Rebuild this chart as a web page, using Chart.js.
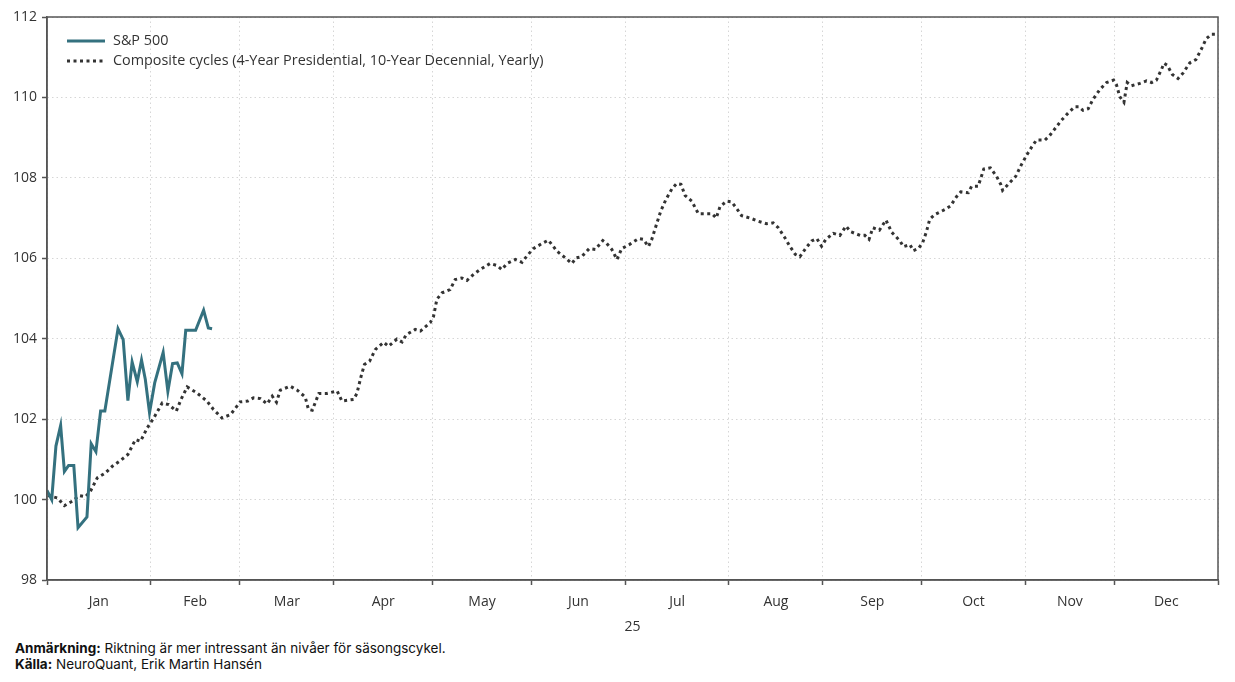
<!DOCTYPE html>
<html lang="sv">
<head>
<meta charset="utf-8">
<title>S&amp;P 500 vs säsongscykel</title>
<script src="https://cdn.jsdelivr.net/npm/chart.js@4.4.1/dist/chart.umd.min.js"></script>
<style>
  body { margin: 0; background: #fff; }
  #wrap { position: relative; width: 1235px; height: 640px; }
  #footer {
    position: absolute; left: 15px; top: 640px;
    font-family: "Inter", "Roboto", sans-serif; font-size: 13.5px; line-height: 16px; color: #111;
  }
  #footer b { font-weight: 700; }
</style>
</head>
<body>
<div id="wrap"><canvas id="chart"></canvas></div>
<div id="footer">
  <div><b>Anmärkning:</b> Riktning är mer intressant än nivåer för säsongscykel.</div>
  <div><b>Källa:</b> NeuroQuant, Erik Martin Hansén</div>
</div>
<script>
// Handelsdagar (index) där varje månad börjar, sista värdet = årets slut
const monthStarts = [0, 22, 41, 61, 82, 103, 123, 145, 165, 186, 208, 227, 249];
const monthLabels = ['Jan', 'Feb', 'Mar', 'Apr', 'May', 'Jun', 'Jul', 'Aug', 'Sep', 'Oct', 'Nov', 'Dec'];
const yTicks = [98, 100, 102, 104, 106, 108, 110, 112];

// S&P 500 (handelsdag, indexnivå)
const spxDays = [0, 1, 1.9, 2.9, 3.7, 4.6, 5.7, 6.6, 8.5, 9.4, 10.4, 11.4, 12.3, 15.1, 16.2, 17.2,
  18.1, 19.2, 20.1, 20.9, 21.8, 22.9, 24.7, 25.7, 26.7, 27.7, 28.7, 29.5, 31.6, 33.3, 34.3, 35.1];
const spxValues = [100.23, 100.0, 101.33, 101.84, 100.7, 100.85, 100.85, 99.3, 99.57, 101.39, 101.19,
  102.2, 102.2, 104.25, 103.98, 102.46, 103.42, 102.93, 103.47, 102.99, 102.16, 102.9, 103.66, 102.69,
  103.38, 103.4, 103.13, 104.21, 104.21, 104.71, 104.27, 104.25];

// Sammansatta cykler
const cycleDays = [0.2, 2.2, 3.7, 5.4, 6.8, 8.2, 9.2, 10.7, 12.4, 13.9, 15.6, 17.2, 18.8, 19.9, 21.3,
  22.7, 24.5, 25.9, 27.5, 28.5, 29.8, 31.9, 34.0, 35.4, 37.2, 39.0, 41.1, 42.7, 43.9, 45.4, 46.8, 47.9,
  48.8, 49.6, 51.7, 53.2, 54.9, 55.6, 56.4, 57.8, 59.5, 61.7, 62.7, 65.2, 65.9, 66.8, 67.5, 68.6, 69.8,
  71.6, 72.6, 74.4, 75.5, 76.4, 78.3, 79.4, 81.5, 82.2, 82.9, 84.0, 85.7, 86.8, 88.2, 89.3, 90.7, 92.1,
  94.2, 95.7, 96.7, 97.8, 99.6, 101.0, 102.0, 103.4, 105.6, 106.6, 107.7, 108.4, 110.2, 111.6, 112.5,
  113.7, 115.3, 116.6, 118.2, 119.0, 120.1, 121.2, 122.2, 123.8, 125.8, 126.8, 127.9, 128.6, 129.7,
  130.5, 131.6, 132.9, 133.9, 134.8, 135.7, 137.1, 138.5, 139.9, 141.4, 142.3, 143.1, 144.5, 145.6,
  146.7, 147.7, 149.5, 151.3, 153.0, 154.4, 155.5, 156.9, 158.0, 159.1, 160.1, 161.4, 162.6, 163.7,
  164.7, 165.6, 167.2, 168.6, 169.9, 170.9, 172.9, 173.9, 174.8, 175.6, 177.0, 178.4, 179.6, 181.4,
  182.1, 183.5, 184.2, 185.3, 186.2, 187.0, 187.7, 188.8, 190.9, 192.1, 193.4, 194.3, 195.9, 196.6,
  198.0, 199.2, 200.6, 201.9, 202.8, 203.2, 204.7, 206.0, 207.2, 208.4, 209.4, 210.4, 212.2, 213.2,
  215.7, 217.2, 218.6, 219.4, 220.3, 221.4, 222.4, 223.9, 225.3, 226.8, 227.4, 228.1, 229.0, 229.7,
  230.6, 232.4, 233.8, 234.9, 235.9, 237.0, 237.5, 238.2, 239.3, 240.5, 241.6, 243.0, 244.3, 245.5,
  246.5, 247.6, 248.7];
const cycleValues = [100.1, 100.04, 99.85, 99.96, 100.1, 100.07, 100.2, 100.54, 100.66, 100.83, 100.97,
  101.12, 101.49, 101.45, 101.78, 102.03, 102.4, 102.36, 102.2, 102.49, 102.8, 102.65, 102.45, 102.24,
  102.03, 102.11, 102.43, 102.45, 102.53, 102.51, 102.38, 102.57, 102.42, 102.72, 102.82, 102.72, 102.55,
  102.24, 102.22, 102.64, 102.64, 102.7, 102.45, 102.49, 102.64, 103.07, 103.36, 103.44, 103.73, 103.91,
  103.81, 103.99, 103.92, 104.1, 104.23, 104.19, 104.4, 104.56, 104.98, 105.14, 105.22, 105.47, 105.51,
  105.45, 105.6, 105.72, 105.87, 105.82, 105.72, 105.87, 105.97, 105.9, 106.05, 106.24, 106.39, 106.45,
  106.29, 106.18, 106.01, 105.87, 106.01, 106.04, 106.24, 106.22, 106.44, 106.37, 106.22, 105.97, 106.24,
  106.34, 106.49, 106.47, 106.29, 106.47, 106.88, 107.17, 107.46, 107.73, 107.86, 107.84, 107.56, 107.42,
  107.11, 107.11, 107.11, 107.0, 107.28, 107.42, 107.4, 107.23, 107.06, 107.0, 106.92, 106.86, 106.88,
  106.76, 106.51, 106.29, 106.1, 106.04, 106.26, 106.43, 106.49, 106.3, 106.47, 106.62, 106.57, 106.8,
  106.66, 106.57, 106.57, 106.47, 106.76, 106.7, 106.95, 106.65, 106.43, 106.29, 106.34, 106.19, 106.24,
  106.39, 106.66, 106.97, 107.09, 107.21, 107.3, 107.53, 107.65, 107.63, 107.79, 107.79, 108.22, 108.25,
  108.04, 107.84, 107.69, 107.88, 108.04, 108.33, 108.58, 108.77, 108.94, 108.94, 109.05, 109.43, 109.62,
  109.77, 109.77, 109.68, 109.72, 109.95, 110.2, 110.37, 110.43, 110.32, 110.02, 109.88, 110.37, 110.29,
  110.35, 110.41, 110.37, 110.43, 110.7, 110.85, 110.8, 110.57, 110.47, 110.61, 110.86, 110.94, 111.21,
  111.46, 111.57, 111.57];

const toPoints = (xs, ys) => xs.map((x, i) => ({ x: x, y: ys[i] }));

// Tick-positioner: månadsstart (jämnt index) och mitten av månaden (udda index) för etiketten
const xTickValues = [];
monthStarts.forEach((v, i) => {
  xTickValues.push(v);
  if (i < monthStarts.length - 1) xTickValues.push((v + monthStarts[i + 1]) / 2);
});

const fontFamily = '"Open Sans", "Noto Sans", sans-serif';
const axisColor = '#555';
const gridColor = '#d6d6d6';

// Ram runt ritytan
const framePlugin = {
  id: 'frame',
  afterDraw(chart) {
    const { ctx, chartArea: a } = chart;
    ctx.save();
    ctx.strokeStyle = axisColor;
    ctx.lineWidth = 1.5;
    ctx.strokeRect(a.left, a.top, a.right - a.left, a.bottom - a.top);
    ctx.restore();
  }
};

// Förklaring inne i diagrammet, uppe till vänster
const insideLegend = {
  id: 'insideLegend',
  afterDraw(chart) {
    const { ctx, chartArea: a } = chart;
    ctx.save();
    ctx.font = '14.4px ' + fontFamily;
    ctx.textBaseline = 'middle';
    chart.data.datasets.forEach((ds, i) => {
      const y = a.top + 24 + i * 20;
      const x = a.left + 20;
      ctx.beginPath();
      ctx.strokeStyle = ds.borderColor;
      ctx.lineWidth = ds.borderWidth;
      ctx.setLineDash(ds.borderDash || []);
      ctx.moveTo(x, y);
      ctx.lineTo(x + 38, y);
      ctx.stroke();
      ctx.setLineDash([]);
      ctx.fillStyle = '#333';
      ctx.fillText(ds.label, x + 46, y);
    });
    ctx.restore();
  }
};

const ctx = document.getElementById('chart').getContext('2d');
const chart = new Chart(ctx, {
  type: 'line',
  data: {
    datasets: [{
      label: 'S&P 500',
      data: toPoints(spxDays, spxValues),
      borderColor: '#34717f',
      borderWidth: 3,
      pointRadius: 0,
      tension: 0,
      order: 0
    }, {
      label: 'Composite cycles (4-Year Presidential, 10-Year Decennial, Yearly)',
      data: toPoints(cycleDays, cycleValues),
      borderColor: '#333333',
      borderWidth: 3,
      borderDash: [3, 3.5],
      pointRadius: 0,
      tension: 0,
      order: 1
    }]
  },
  options: {
    responsive: true,
    maintainAspectRatio: false,
    animation: false,
    layout: { padding: { top: 17, right: 17, left: 0, bottom: 0 } },
    plugins: {
      legend: { display: false },
      tooltip: { enabled: false }
    },
    scales: {
      x: {
        type: 'linear',
        min: monthStarts[0],
        max: monthStarts[monthStarts.length - 1],
        afterBuildTicks: axis => { axis.ticks = xTickValues.map(v => ({ value: v })); },
        afterFit: axis => { axis.height = 60; },
        ticks: {
          autoSkip: false,
          maxRotation: 0,
          padding: 9,
          color: '#333',
          font: { family: fontFamily, size: 14 },
          callback: (value, index) => index % 2 === 1 ? monthLabels[(index - 1) / 2] : ''
        },
        grid: {
          color: c => c.index % 2 === 0 ? gridColor : 'rgba(0,0,0,0)',
          tickColor: c => c.index % 2 === 0 ? axisColor : 'rgba(0,0,0,0)',
          tickLength: 5,
          tickWidth: 1.5,
          tickBorderDash: []
        },
        border: { color: axisColor, width: 1.5, dash: [1.5, 3] },
        title: {
          display: true,
          text: '25',
          color: '#333',
          font: { family: fontFamily, size: 14 },
          padding: { top: 4, bottom: 5 }
        }
      },
      y: {
        min: 98,
        max: 112,
        afterBuildTicks: axis => { axis.ticks = yTicks.map(v => ({ value: v })); },
        afterFit: axis => { axis.width = 47; },
        ticks: {
          padding: 5,
          color: '#333',
          font: { family: fontFamily, size: 14 }
        },
        grid: {
          color: gridColor,
          tickColor: axisColor,
          tickLength: 5,
          tickWidth: 1.5,
          tickBorderDash: []
        },
        border: { color: axisColor, width: 1.5, dash: [1.5, 3] }
      }
    }
  },
  plugins: [framePlugin, insideLegend]
});
</script>
</body>
</html>
